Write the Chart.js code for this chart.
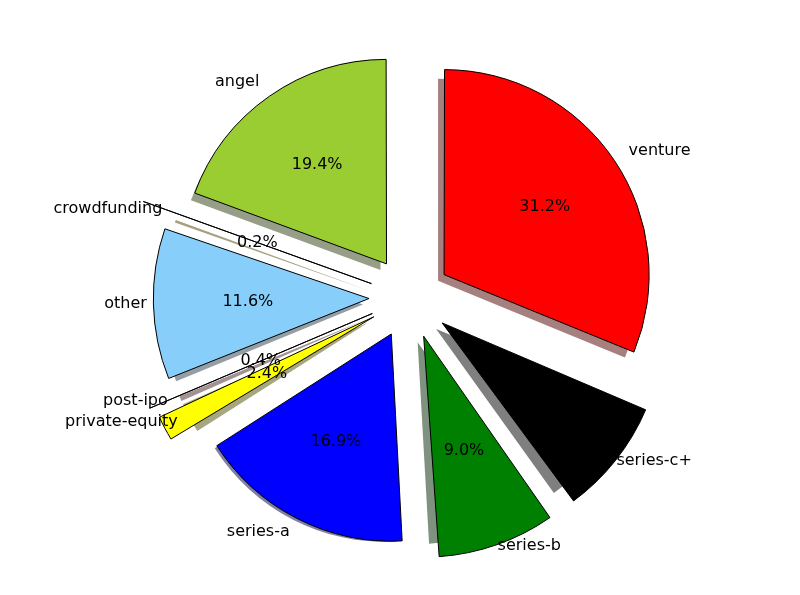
<!DOCTYPE html>
<html>
<head>
<meta charset="utf-8">
<script src="https://cdn.jsdelivr.net/npm/chart.js@4"></script>
<style>
  body { margin: 0; background: #fff; }
  #wrap { width: 800px; height: 595px; }
</style>
</head>
<body>
<div id="wrap"><canvas id="pie"></canvas></div>
<script>
// clockwise from the top (matplotlib drew them counter-clockwise)
const categories = ['venture', 'series-c+', 'series-b', 'series-a', 'private-equity', 'post-ipo', 'other', 'crowdfunding', 'angel'];
const shares = [31.2, 8.9, 9.0, 16.9, 2.4, 0.4, 11.6, 0.2, 19.4];
const colors = ['#ff0000', '#000000', '#008000', '#0000ff', '#ffff00', '#f08080', '#87cefa', '#ffd700', '#9acd32'];

const EXPLODE = 41;

function shade(hex) {
  const n = parseInt(hex.slice(1), 16);
  const r = (n >> 16) & 255, g = (n >> 8) & 255, b = n & 255;
  return `rgba(${Math.round(r * 0.3)},${Math.round(g * 0.3)},${Math.round(b * 0.3)},0.5)`;
}

// matplotlib-style shadow: darker copy shifted left/down, drawn under the pie
const shadowPlugin = {
  id: 'shadow',
  beforeDatasetsDraw(chart) {
    const c = chart.ctx;
    const arcs = chart.getDatasetMeta(0).data;
    c.save();
    arcs.forEach((arc, i) => {
      const mid = (arc.startAngle + arc.endAngle) / 2;
      const cx = arc.x + Math.cos(mid) * EXPLODE - 6;
      const cy = arc.y + Math.sin(mid) * EXPLODE + 6;
      c.beginPath();
      c.moveTo(cx, cy);
      c.arc(cx, cy, arc.outerRadius, arc.startAngle, arc.endAngle);
      c.closePath();
      c.fillStyle = shade(colors[i]);
      c.fill();
    });
    c.restore();
  }
};

const labelPlugin = {
  id: 'pieLabels',
  afterDatasetsDraw(chart) {
    const c = chart.ctx;
    const arcs = chart.getDatasetMeta(0).data;
    c.save();
    c.font = '16px "DejaVu Sans"';
    c.textBaseline = 'middle';
    arcs.forEach((arc, i) => {
      const mid = (arc.startAngle + arc.endAngle) / 2;
      const r = arc.outerRadius;
      const cx = arc.x + Math.cos(mid) * EXPLODE;
      const cy = arc.y + Math.sin(mid) * EXPLODE;
      const dx = Math.cos(mid), dy = Math.sin(mid);
      c.fillStyle = '#000';
      c.textAlign = 'center';
      c.fillText(shares[i].toFixed(1) + '%', cx + dx * r * 0.6, cy + dy * r * 0.6);
      c.textAlign = dx >= 0 ? 'left' : 'right';
      c.fillText(categories[i], cx + dx * r * 1.1, cy + dy * r * 1.1);
    });
    c.restore();
  }
};

new Chart(document.getElementById('pie'), {
  type: 'pie',
  data: {
    labels: categories,
    datasets: [{
      data: shares,
      backgroundColor: colors,
      borderColor: '#000',
      borderWidth: 1,
      // Chart.js moves an arc by a quarter of its offset
      offset: EXPLODE * 4,
      radius: 202
    }]
  },
  options: {
    responsive: true,
    maintainAspectRatio: false,
    animation: false,
    layout: { padding: { left: 20 } },
    plugins: { legend: { display: false }, tooltip: { enabled: false } }
  },
  plugins: [shadowPlugin, labelPlugin]
});
</script>
</body>
</html>
